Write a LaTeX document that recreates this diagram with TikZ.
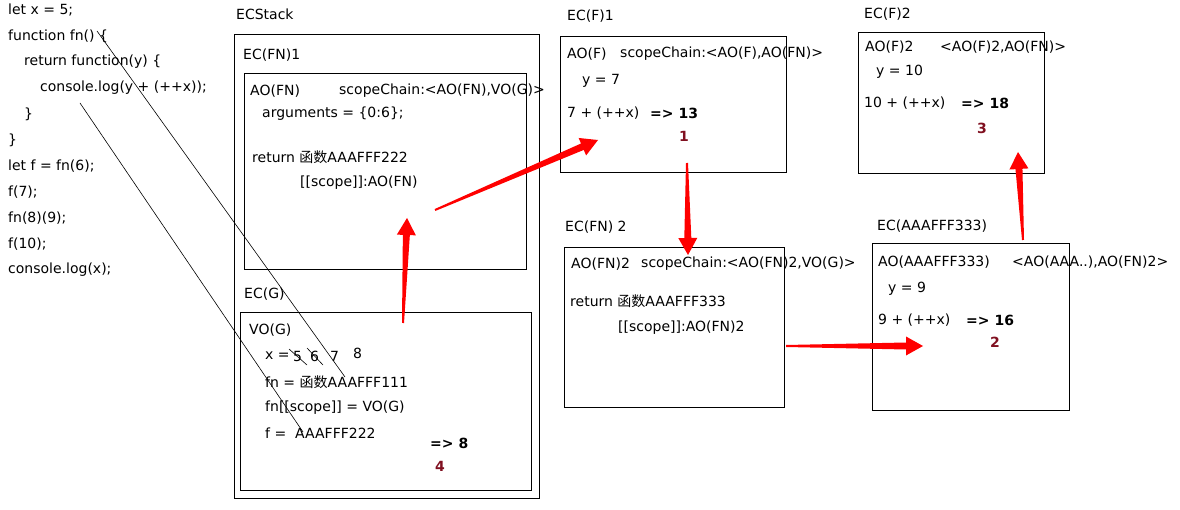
\documentclass[tikz,border=0pt]{standalone}
\usepackage{fontspec}
\setmainfont{DejaVu Sans}
\newfontfamily\cjk{Noto Sans CJK SC}
\usetikzlibrary{calc}
\definecolor{numred}{RGB}{128,16,32}
% tapered red arrow from coordinate #1 to coordinate #2
\newcommand\redarr[2]{%
  \coordinate (#1h) at ($(#2)!17pt!(#1)$);
  \fill[red] ($(#1)!1pt!90:(#2)$) -- ($(#1h)!3.5pt!90:(#2)$)
    -- ($(#1h)!9.5pt!90:(#2)$) -- (#2) -- ($(#1h)!9.5pt!-90:(#2)$)
    -- ($(#1h)!3.5pt!-90:(#2)$) -- ($(#1)!1pt!-90:(#2)$) -- cycle;}
\begin{document}
\begin{tikzpicture}[x=1pt,y=-1pt,
  txt/.style={anchor=west, inner sep=0pt, font=\fontsize{14}{16}\selectfont},
  res/.style={txt, font=\fontsize{14}{16}\selectfont\bfseries},
  num/.style={txt, text=numred, font=\fontsize{14}{16}\selectfont\bfseries},
  box/.style={draw, line width=1.1pt, anchor=north west, inner sep=0pt},
  thin/.style={line width=0.6pt}]
\useasboundingbox (0,0) rectangle (1180,510);

% ---- source code ----
\node[txt] (c1) at (8,10) {let x = 5;};
\node[txt] (c2) at (8,36) {function fn() \{};
\node[txt] (c3) at (24,62) {return function(y) \{};
\node[txt] (c4) at (40,88) {console.log(y + (++x));};
\node[txt] (c5) at (24,114) {\}};
\node[txt] (c6) at (8,140) {\}};
\node[txt] (c7) at (8,166) {let f = fn(6);};
\node[txt] (c8) at (8,192) {f(7);};
\node[txt] (c9) at (8,218) {fn(8)(9);};
\node[txt] (c10) at (8,244) {f(10);};
\node[txt] (c11) at (8,270) {console.log(x);};

% ---- ECStack ----
\node[txt] (ecs) at (236,14) {ECStack};
\node[box, minimum width=305pt, minimum height=464pt] (stack) at (234,34) {};

\node[txt] (ecfn1) at (243,55) {EC(FN)1};
\node[box, minimum width=282pt, minimum height=196pt] (fn1) at (244,73) {};
\node[txt] (ao) at (250,91) {AO(FN)};
\node[txt] (sc1) at (339,91) {scopeChain:<AO(FN),VO(G)>};
\node[txt] (args) at (262,114) {arguments = \{0:6\};};
\node[txt] (ret1) at (252,157) {return {\cjk 函数}AAAFFF222};
\node[txt] (scp1) at (300,183) {[[scope]]:AO(FN)};

\node[txt] (ecg) at (244,294) {EC(G)};
\node[box, minimum width=291pt, minimum height=178pt] (vog) at (240,312) {};
\node[txt] (vo) at (249,330) {VO(G)};
\node[txt] (xv) at (265,356) {x =};
\node[txt] (x5) at (293,356) {5};
\node[txt] (x6) at (310,356) {6};
\node[txt] (x7) at (330,356) {7};
\node[txt] (x8) at (353,353) {8};
\node[txt] (fnv) at (265,382) {fn = {\cjk 函数}AAAFFF111};
\node[txt] (fns) at (265,408) {fn[[scope]] = VO(G)};
\node[txt] (fv) at (265,433) {f =\ \ AAAFFF222};
\node[res] (r4) at (430,443) {=> 8};
\node[num] (n4) at (435,466) {4};

% ---- EC(F)1 ----
\node[txt] (ecf1) at (567,16) {EC(F)1};
\node[box, minimum width=226pt, minimum height=136pt] (f1) at (560,36) {};
\node[txt] (aof) at (567,54) {AO(F)};
\node[txt] (sc2) at (620,54) {scopeChain:<AO(F),AO(FN)>};
\node[txt] (y7) at (582,81) {y = 7};
\node[txt] (e7) at (567,113) {7 + (++x)};
\node[res] (r1) at (650,113) {=> 13};
\node[num] (n1) at (679,136) {1};

% ---- EC(F)2 ----
\node[txt] (ecf2) at (864,14) {EC(F)2};
\node[box, minimum width=186pt, minimum height=141pt] (f2) at (858,32) {};
\node[txt] (aof2) at (865,47) {AO(F)2};
\node[txt] (sc3) at (940,47) {<AO(F)2,AO(FN)>};
\node[txt] (y10) at (876,72) {y = 10};
\node[txt] (e10) at (864,103) {10 + (++x)};
\node[res] (r3) at (961,103) {=> 18};
\node[num] (n3) at (977,128) {3};

% ---- EC(FN) 2 ----
\node[txt] (ecfn2) at (565,227) {EC(FN) 2};
\node[box, minimum width=220pt, minimum height=160pt] (fn2) at (564,247) {};
\node[txt] (ao2) at (571,264) {AO(FN)2};
\node[txt] (sc4) at (641,264) {scopeChain:<AO(FN)2,VO(G)>};
\node[txt] (ret2) at (570,301) {return {\cjk 函数}AAAFFF333};
\node[txt] (scp2) at (618,328) {[[scope]]:AO(FN)2};

% ---- EC(AAAFFF333) ----
\node[txt] (eca) at (877,226) {EC(AAAFFF333)};
\node[box, minimum width=197pt, minimum height=167pt] (fa) at (872,243) {};
\node[txt] (aoa) at (878,262) {AO(AAAFFF333)};
\node[txt] (sc5) at (1012,262) {<AO(AAA..),AO(FN)2>};
\node[txt] (y9) at (888,289) {y = 9};
\node[txt] (e9) at (878,320) {9 + (++x)};
\node[res] (r2) at (966,320) {=> 16};
\node[num] (n2) at (990,342) {2};

% ---- lines from the source to VO(G) ----
\coordinate (l1a) at (97,31);  \coordinate (l1b) at (345,377);
\coordinate (l2a) at (80,103); \coordinate (l2b) at (303,432);
\draw[thin] (l1a) -- (l1b);
\draw[thin] (l2a) -- (l2b);
% struck-out values of x
\coordinate (s5a) at (289,349); \coordinate (s5b) at (307,365);
\coordinate (s6a) at (307,348); \coordinate (s6b) at (323,365);
\draw[thin] (s5a) -- (s5b);
\draw[thin] (s6a) -- (s6b);

% ---- call order arrows ----
\coordinate (a1s) at (403,323); \coordinate (a1e) at (407,218);
\coordinate (a2s) at (435,210); \coordinate (a2e) at (598,140);
\coordinate (a3s) at (687,163); \coordinate (a3e) at (688,255);
\coordinate (a4s) at (786,346); \coordinate (a4e) at (923,346);
\coordinate (a5s) at (1023,240); \coordinate (a5e) at (1018,152);
\redarr{a1s}{a1e}
\redarr{a2s}{a2e}
\redarr{a3s}{a3e}
\redarr{a4s}{a4e}
\redarr{a5s}{a5e}
\end{tikzpicture}
\end{document}
